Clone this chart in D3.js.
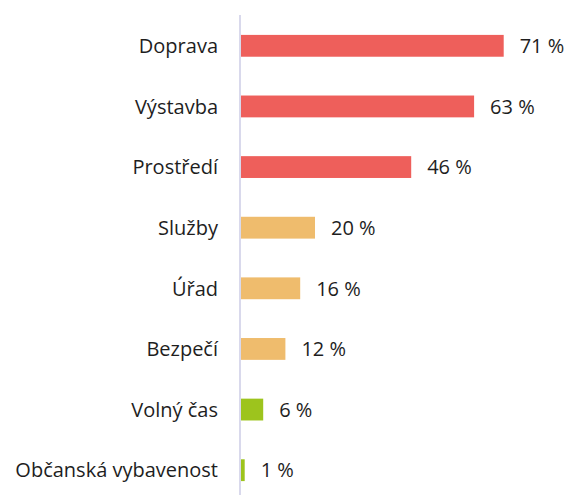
<!DOCTYPE html>
<html>
<head>
<meta charset="utf-8">
<script src="https://d3js.org/d3.v7.min.js"></script>
<style>
  body { margin: 0; background: #fff; }
  text { font-family: "Open Sans", sans-serif; fill: #1e1e1e; }
</style>
</head>
<body>
<svg id="chart"></svg>
<script>
var categories = ["Doprava", "Výstavba", "Prostředí", "Služby", "Úřad", "Bezpečí", "Volný čas", "Občanská vybavenost"];
var values = [71, 63, 46, 20, 16, 12, 6, 1];
var groups = ["red", "red", "red", "orange", "orange", "orange", "green", "green"];

var colors = { red: "#EE5F5B", orange: "#EFBC6D", green: "#9DC41D" };

var width = 568,
    height = 495,
    axisX = 240;

var svg = d3.select("#chart")
    .attr("width", width)
    .attr("height", height);

var x = d3.scaleLinear().domain([0, 100]).range([axisX + 1, axisX + 371]);
var y = d3.scaleBand().domain(categories).range([15.5, 500.5]).paddingInner(0.64).paddingOuter(0.32);

var data = categories.map(function(c, i) {
  return { name: c, value: values[i], group: groups[i] };
});

svg.selectAll("rect.bar")
    .data(data)
  .enter().append("rect")
    .attr("class", "bar")
    .attr("x", x(0))
    .attr("y", function(d) { return y(d.name); })
    .attr("width", function(d) { return x(d.value) - x(0); })
    .attr("height", y.bandwidth())
    .attr("fill", function(d) { return colors[d.group]; });

svg.append("line")
    .attr("x1", axisX).attr("x2", axisX)
    .attr("y1", 15).attr("y2", height)
    .attr("stroke", "#D9D9EC")
    .attr("stroke-width", 2);

svg.selectAll("text.cat")
    .data(data)
  .enter().append("text")
    .attr("class", "cat")
    .attr("x", axisX - 22)
    .attr("y", function(d) { return y(d.name) + y.bandwidth() / 2; })
    .attr("dy", "0.36em")
    .attr("text-anchor", "end")
    .style("font-size", "20px")
    .text(function(d) { return d.name; });

svg.selectAll("text.val")
    .data(data)
  .enter().append("text")
    .attr("class", "val")
    .attr("x", function(d) { return x(d.value) + 16; })
    .attr("y", function(d) { return y(d.name) + y.bandwidth() / 2; })
    .attr("dy", "0.36em")
    .style("font-size", "20px")
    .text(function(d) { return d.value + " %"; });
</script>
</body>
</html>
